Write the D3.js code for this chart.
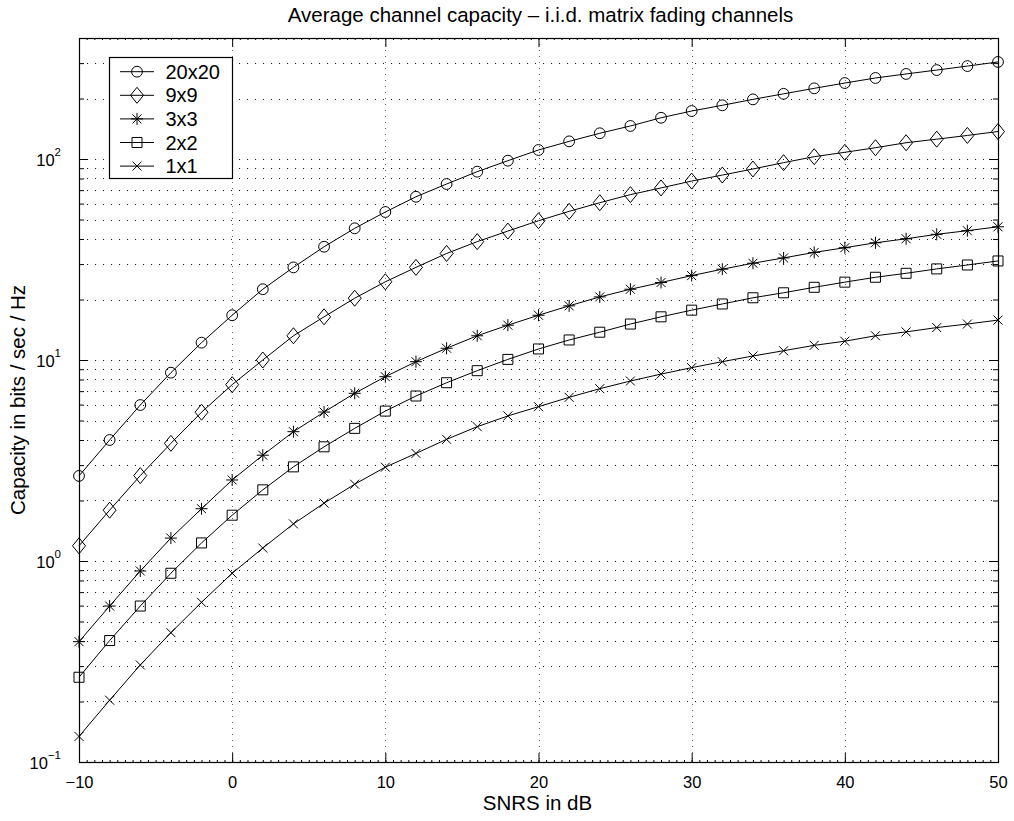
<!DOCTYPE html>
<html>
<head>
<meta charset="utf-8">
<script src="https://cdn.jsdelivr.net/npm/d3@7"></script>
<style>
  html, body { margin: 0; padding: 0; background: #fff; }
  svg { display: block; font-family: "Liberation Sans", Arial, Helvetica, sans-serif; }
</style>
</head>
<body>
<svg id="chart" width="1014" height="821"></svg>
<script>
// SNR grid (dB) shared by every curve
const snr = d3.range(-10, 51, 2);

// Average capacity (bits/sec/Hz) per antenna configuration
const cap20x20 = [2.65, 4.0, 5.97, 8.65, 12.2, 16.7, 22.5, 28.9, 36.6, 45.2, 54.5, 64.9, 75.1, 86.5, 98.1,
  110.9, 122.4, 134.3, 146, 160.4, 173.3, 185, 198, 211, 224.7, 238.8, 253, 265, 277, 290, 304];
const cap9x9 = [1.19, 1.79, 2.66, 3.85, 5.50, 7.54, 10.0, 13.2, 16.4, 20.3, 24.5, 28.9, 33.9, 38.8, 43.8,
  49.3, 54.9, 60.6, 66.5, 71.8, 77.7, 83.2, 89.2, 95.9, 102.7, 108, 113.8, 120.5, 125.5, 131, 137];
const cap3x3 = [0.397, 0.597, 0.892, 1.30, 1.82, 2.53, 3.36, 4.40, 5.51, 6.83, 8.26, 9.81, 11.44, 13.2, 14.9,
  16.7, 18.6, 20.6, 22.5, 24.3, 26.3, 28.3, 30.3, 32.2, 34.3, 36.2, 38.3, 40.1, 42.2, 44.0, 46.0];
const cap2x2 = [0.264, 0.402, 0.597, 0.869, 1.23, 1.69, 2.26, 2.94, 3.70, 4.57, 5.57, 6.62, 7.71, 8.85, 10.07,
  11.35, 12.58, 13.75, 15.1, 16.4, 17.7, 19.0, 20.4, 21.6, 23.0, 24.4, 25.8, 27.0, 28.4, 29.7, 31.1];
const cap1x1 = [0.134, 0.203, 0.304, 0.440, 0.623, 0.869, 1.16, 1.53, 1.94, 2.41, 2.93, 3.43, 4.03, 4.66, 5.27,
  5.86, 6.52, 7.2, 7.86, 8.51, 9.16, 9.81, 10.47, 11.12, 11.83, 12.4, 13.2, 13.8, 14.5, 15.1, 15.8];

const seriesNames = ["20x20", "9x9", "3x3", "2x2", "1x1"];
const seriesValues = [cap20x20, cap9x9, cap3x3, cap2x2, cap1x1];
const seriesMarkers = ["circle", "diamond", "star", "square", "cross"];

const xTicks = [-10, 0, 10, 20, 30, 40, 50];
const yDecades = [0.1, 1, 10, 100];
const yExponents = ["−1", "0", "1", "2"];

const titleText = "Average channel capacity – i.i.d. matrix fading channels";
const xLabelText = "SNRS in dB";
const yLabelText = "Capacity in bits / sec / Hz";

// ---- layout ----
const plot = { left: 79, right: 998, top: 38, bottom: 762 };
const svg = d3.select("#chart");

const x = d3.scaleLinear().domain([-10, 50]).range([plot.left, plot.right]);
const y = d3.scaleLog().domain([0.1, 400]).range([plot.bottom, plot.top]);

// ---- grid ----
const gridDash = "1,7";
const yGridVals = [];
[0.1, 1, 10, 100].forEach(d => {
  for (let k = 1; k <= 9; k++) {
    const v = k * d;
    if (v > 0.1 && v < 400) yGridVals.push(+v.toPrecision(3));
  }
});
const grid = svg.append("g").attr("class", "grid");
grid.selectAll("line.hy").data(yGridVals).join("line")
  .attr("x1", plot.left).attr("x2", plot.right)
  .attr("y1", d => Math.round(y(d)) + 0.5).attr("y2", d => Math.round(y(d)) + 0.5)
  .attr("stroke", "#111").attr("stroke-width", 1).attr("stroke-dasharray", gridDash);
grid.selectAll("line.vx").data(xTicks.slice(1, -1)).join("line")
  .attr("x1", d => Math.round(x(d)) + 0.5).attr("x2", d => Math.round(x(d)) + 0.5)
  .attr("y1", plot.top).attr("y2", plot.bottom)
  .attr("stroke", "#666").attr("stroke-width", 1).attr("stroke-dasharray", "1,5");

// ---- axes (inward ticks on all four sides) ----
const fmtNone = () => "";
const xMinor = d3.range(-10, 50.01, 0.5);
const yMinor = yGridVals;

function styleAxis(g) {
  g.select(".domain").remove();
  g.selectAll(".tick line").attr("stroke", "#000");
}

svg.append("g").attr("transform", `translate(0,${plot.bottom})`)
  .call(d3.axisBottom(x).tickValues(xMinor).tickSize(-2).tickFormat(fmtNone)).call(styleAxis);
svg.append("g").attr("transform", `translate(0,${plot.top})`)
  .call(d3.axisTop(x).tickValues(xMinor).tickSize(-2).tickFormat(fmtNone)).call(styleAxis);
svg.append("g").attr("transform", `translate(0,${plot.bottom})`)
  .call(d3.axisBottom(x).tickValues(xTicks).tickSize(-9).tickPadding(14)
    .tickFormat(d => d < 0 ? "−" + Math.abs(d) : String(d)))
  .call(styleAxis)
  .call(g => g.selectAll("text").attr("font-size", 16.5).attr("fill", "#000")
    .attr("font-family", "Liberation Sans, Arial, sans-serif"));
svg.append("g").attr("transform", `translate(0,${plot.top})`)
  .call(d3.axisTop(x).tickValues(xTicks).tickSize(-9).tickFormat(fmtNone)).call(styleAxis);

svg.append("g").attr("transform", `translate(${plot.left},0)`)
  .call(d3.axisLeft(y).tickValues(yMinor).tickSize(-5).tickFormat(fmtNone)).call(styleAxis);
svg.append("g").attr("transform", `translate(${plot.right},0)`)
  .call(d3.axisRight(y).tickValues(yMinor).tickSize(-5).tickFormat(fmtNone)).call(styleAxis);
svg.append("g").attr("transform", `translate(${plot.left},0)`)
  .call(d3.axisLeft(y).tickValues(yDecades).tickSize(-9).tickFormat(fmtNone)).call(styleAxis);
svg.append("g").attr("transform", `translate(${plot.right},0)`)
  .call(d3.axisRight(y).tickValues(yDecades).tickSize(-9).tickFormat(fmtNone)).call(styleAxis);

// decade labels with superscript exponents
const yLab = svg.append("g").selectAll("text").data(yDecades).join("text")
  .attr("x", 61).attr("y", d => y(d) + 7)
  .attr("text-anchor", "end").attr("font-size", 16.5).attr("fill", "#000");
yLab.append("tspan").text("10");
yLab.append("tspan").attr("dy", -10).attr("font-size", 11.5).text((d, i) => yExponents[i]);

// box
svg.append("rect")
  .attr("x", plot.left + 0.5).attr("y", plot.top + 0.5)
  .attr("width", plot.right - plot.left).attr("height", plot.bottom - plot.top)
  .attr("fill", "none").attr("stroke", "#000").attr("stroke-width", 1.2);

// ---- markers ----
function drawMarker(g, type, s) {
  if (type === "circle") {
    g.append("circle").attr("r", s * 5.4).attr("fill", "none").attr("stroke", "#000").attr("stroke-width", 1);
    return;
  }
  const p = g.append("path").attr("fill", "none").attr("stroke", "#000").attr("stroke-width", 1);
  if (type === "diamond") {
    p.attr("d", `M0,${-8 * s}L${6.5 * s},0L0,${8 * s}L${-6.5 * s},0Z`);
  } else if (type === "square") {
    const h = 5 * s;
    p.attr("d", `M${-h},${-h}H${h}V${h}H${-h}Z`);
  } else if (type === "cross") {
    const h = 4.5 * s;
    p.attr("d", `M${-h},${-h}L${h},${h}M${-h},${h}L${h},${-h}`);
  } else if (type === "star") {
    const h = 6 * s, d = 4.5 * s;
    p.attr("d", `M0,${-h}V${h}M${-h},0H${h}M${-d},${-d}L${d},${d}M${-d},${d}L${d},${-d}`);
  }
}

const line = d3.line().x(d => x(d[0])).y(d => y(d[1]));

seriesValues.forEach((vals, si) => {
  const pts = snr.map((s, i) => [s, vals[i]]);
  const g = svg.append("g").attr("class", "series");
  g.append("path").datum(pts).attr("d", line)
    .attr("fill", "none").attr("stroke", "#000").attr("stroke-width", 1);
  g.selectAll("g.m").data(pts).join("g")
    .attr("transform", d => `translate(${x(d[0])},${y(d[1])})`)
    .each(function () { drawMarker(d3.select(this), seriesMarkers[si], 1); });
});

// ---- legend ----
const leg = svg.append("g");
leg.append("rect").attr("x", 109.5).attr("y", 57.5).attr("width", 123).attr("height", 121)
  .attr("fill", "#fff").attr("stroke", "#000").attr("stroke-width", 1.2);
seriesNames.forEach((name, i) => {
  const cy = 71.7 + i * 23.6;
  const r = leg.append("g").attr("transform", `translate(0,${cy})`);
  r.append("line").attr("x1", 120).attr("x2", 154).attr("y1", 0).attr("y2", 0)
    .attr("stroke", "#000").attr("stroke-width", 1);
  drawMarker(r.append("g").attr("transform", "translate(137,0)"), seriesMarkers[i], 1);
  r.append("text").attr("x", 165.5).attr("y", 7).attr("font-size", 20).attr("fill", "#000").text(name);
});

// ---- titles ----
svg.append("text").attr("x", (plot.left + plot.right) / 2 + 2).attr("y", 22)
  .attr("text-anchor", "middle").attr("font-size", 20.5).attr("fill", "#000").text(titleText);
svg.append("text").attr("x", (plot.left + plot.right) / 2 - 1).attr("y", 810)
  .attr("text-anchor", "middle").attr("font-size", 20.5).attr("fill", "#000").text(xLabelText);
svg.append("text").attr("transform", `translate(25,${(plot.top + plot.bottom) / 2}) rotate(-90)`)
  .attr("text-anchor", "middle").attr("font-size", 20.5).attr("fill", "#000").text(yLabelText);
</script>
</body>
</html>
